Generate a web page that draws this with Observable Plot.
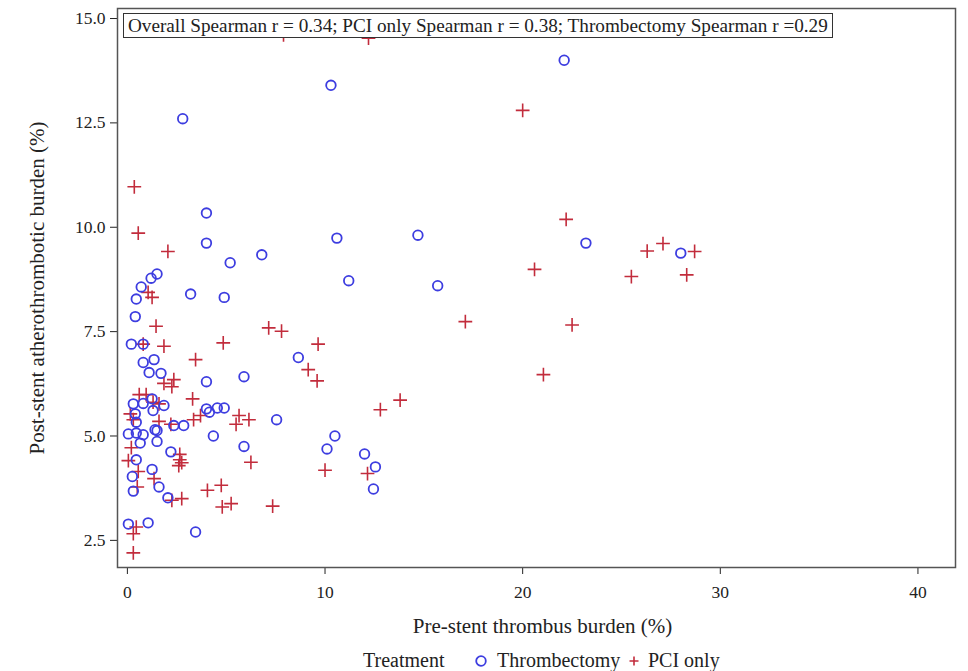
<!DOCTYPE html>
<html>
<head>
<meta charset="utf-8">
<script src="https://cdn.jsdelivr.net/npm/d3@7"></script>
<script src="https://cdn.jsdelivr.net/npm/@observablehq/plot@0.6"></script>
<style>
  body { margin: 0; background: #fff; font-family: 'Liberation Serif', serif; }
  #wrap { position: relative; width: 968px; height: 671px; overflow: hidden; }
  #wrap svg text { font-family: 'Liberation Serif', serif !important; font-variant: normal !important; font-variant-numeric: normal !important; }
  #stat { position: absolute; left: 123px; top: 13px; border: 1.5px solid #333; padding: 0 4px;
          font-family: 'Liberation Serif', serif; font-size: 19.2px; color: #222; background: #fff; white-space: nowrap; line-height: 23px; }
  .leg { position: absolute; top: 648px; font-family: 'Liberation Serif', serif; font-size: 20px; color: #222; line-height: 24px; white-space: nowrap; }
</style>
</head>
<body>
<div id="wrap"></div>
<script>
const statText = "Overall Spearman r = 0.34; PCI only Spearman r = 0.38; Thrombectomy Spearman r =0.29";
const legendTitle = "Treatment";
const seriesNames = ["Thrombectomy", "PCI only"];
const xTicks = [0, 10, 20, 30, 40];
const yTicks = [2.5, 5.0, 7.5, 10.0, 12.5, 15.0];

const thrombX = [22.1,10.3,2.8,4.0,4.0,14.7,10.6,5.2,6.8,23.2,28.0,15.7,11.2,1.5,1.2,0.7,3.2,4.9,0.45,0.4,0.2,0.8,0.8,1.35,1.1,1.7,4.0,5.9,8.65,0.3,0.8,1.25,1.3,1.85,0.4,0.45,4.0,4.15,4.55,4.9,7.55,0.05,0.45,0.8,1.4,1.5,0.65,1.5,2.35,2.85,4.35,5.9,2.2,0.45,1.25,0.25,1.6,0.3,2.05,0.05,1.05,3.45,10.5,10.1,12.0,12.55,12.45];
const thrombY = [14.0,13.4,12.6,10.34,9.62,9.81,9.74,9.15,9.34,9.62,9.38,8.6,8.72,8.88,8.78,8.57,8.4,8.32,8.28,7.86,7.2,7.2,6.76,6.83,6.52,6.5,6.3,6.42,6.88,5.77,5.78,5.89,5.61,5.73,5.53,5.33,5.65,5.57,5.67,5.67,5.39,5.05,5.07,5.03,5.15,5.13,4.83,4.87,5.25,5.25,5.0,4.75,4.62,4.43,4.2,4.03,3.78,3.68,3.52,2.89,2.92,2.7,5.0,4.69,4.57,4.26,3.73];

const pciX = [7.9,12.2,20.0,22.2,20.6,26.3,27.1,28.7,25.5,28.3,17.1,22.5,21.05,0.35,0.55,2.05,1.05,1.25,1.45,0.8,1.85,4.85,3.45,2.35,7.15,7.8,9.65,9.15,9.6,1.85,2.25,0.6,0.95,1.3,1.6,3.3,0.15,0.3,1.6,2.2,3.35,3.7,5.5,5.65,6.15,13.8,12.8,0.2,0.05,2.65,2.65,2.6,2.75,6.25,0.55,1.35,0.5,2.25,2.75,4.05,4.75,4.8,5.25,7.35,10.0,12.15,0.45,0.3,0.3];
const pciY = [14.61,14.53,12.8,10.19,8.99,9.43,9.61,9.42,8.82,8.86,7.74,7.66,6.47,10.97,9.86,9.42,8.44,8.32,7.63,7.2,7.15,7.23,6.83,6.35,7.59,7.51,7.2,6.59,6.32,6.26,6.18,5.99,5.99,5.81,5.77,5.89,5.53,5.39,5.35,5.28,5.39,5.49,5.28,5.49,5.39,5.86,5.63,4.72,4.41,4.56,4.43,4.29,4.36,4.37,4.15,3.98,3.78,3.46,3.5,3.7,3.82,3.3,3.38,3.32,4.18,4.1,2.82,2.66,2.2];

const thromb = thrombX.map((x, i) => ({x, y: thrombY[i]}));
const pci = pciX.map((x, i) => ({x, y: pciY[i]}));

const blue = "#3d3de0";
const red = "#c22c3c";
const serif = "'Liberation Serif', serif";

const chart = Plot.plot({
  width: 968,
  height: 645,
  marginLeft: 117,
  marginRight: 13,
  marginTop: 8,
  marginBottom: 78,
  style: { fontFamily: serif, fontSize: "17px", color: "#222", background: "#fff" },
  x: { domain: [-0.5, 41.9], ticks: xTicks, tickSize: 7, tickPadding: 11, label: "Pre-stent thrombus burden (%)", labelAnchor: "center", labelOffset: 65, labelArrow: "none" },
  y: { domain: [1.85, 15.24], ticks: yTicks, tickFormat: d3.format(".1f"), tickSize: 7, tickPadding: 5, label: "Post-stent atherothrombotic burden (%)", labelAnchor: "center", labelOffset: 88, labelArrow: "none" },
  marks: [
    Plot.frame({ stroke: "#555", strokeWidth: 1.5 }),
    Plot.dot(pci, { x: "x", y: "y", symbol: "plus", r: 4.5, stroke: red, strokeWidth: 1.6 }),
    Plot.dot(thromb, { x: "x", y: "y", symbol: "circle", r: 4.8, stroke: blue, strokeWidth: 1.8, fill: "none" })
  ]
});
chart.setAttribute("font-family", serif);
chart.style.fontFamily = serif;
chart.querySelectorAll("[font-variant]").forEach(g => g.removeAttribute("font-variant"));
chart.querySelectorAll("text").forEach(t => { t.style.fontFamily = serif; t.setAttribute("font-family", serif); });
chart.querySelectorAll("g[aria-label='x-axis tick label'] text, g[aria-label='y-axis tick label'] text").forEach(t => t.style.fontSize = "17.5px");
chart.querySelectorAll("g[aria-label='x-axis label'] text, g[aria-label='y-axis label'] text").forEach(t => t.style.fontSize = "21px");
chart.querySelectorAll("g[aria-label='x-axis label'] text").forEach(t => t.setAttribute("dx", "6"));

const wrap = document.getElementById("wrap");
wrap.appendChild(chart);

const stat = document.createElement("div");
stat.id = "stat";
stat.textContent = statText;
wrap.appendChild(stat);

function addLeg(left, html) {
  const d = document.createElement("div");
  d.className = "leg";
  d.style.left = left + "px";
  d.innerHTML = html;
  wrap.appendChild(d);
}
addLeg(363, legendTitle);
addLeg(474, `<svg width="14" height="14" style="vertical-align:-1px"><circle cx="7" cy="7" r="4.8" fill="none" stroke="${blue}" stroke-width="1.8"/></svg>`);
addLeg(497, seriesNames[0]);
addLeg(627, `<svg width="14" height="14" style="vertical-align:-1px"><path d="M7,2.5V11.5M2.5,7H11.5" stroke="${red}" stroke-width="1.6"/></svg>`);
addLeg(648, seriesNames[1]);
</script>
</body>
</html>
